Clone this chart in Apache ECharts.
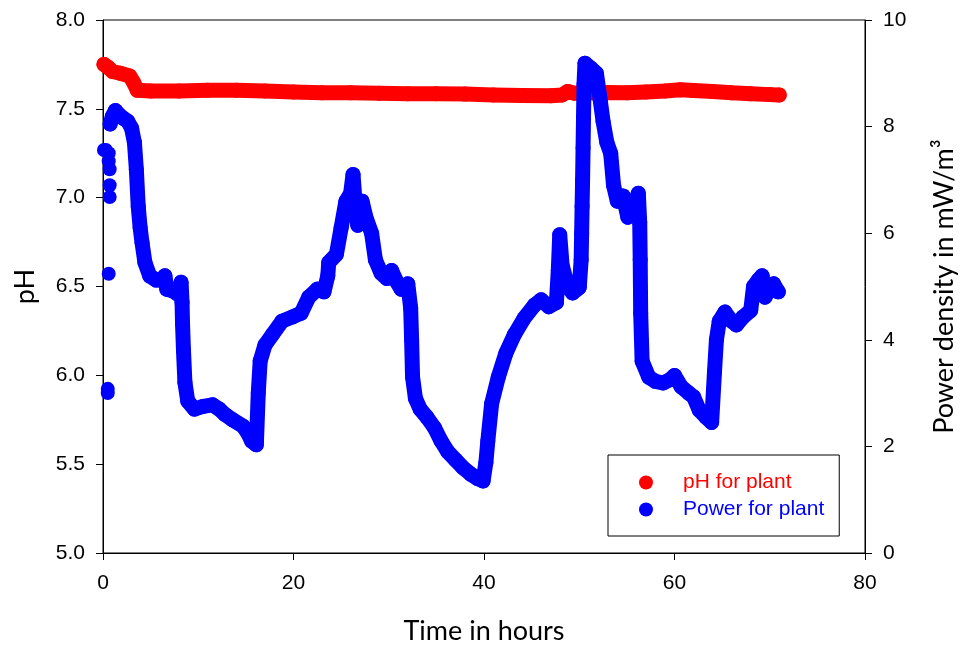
<!DOCTYPE html>
<html><head><meta charset="utf-8">
<script src="https://cdn.jsdelivr.net/npm/echarts@6/dist/echarts.min.js"></script>
<style>html,body{margin:0;padding:0;background:#fff}#c{width:960px;height:646px}</style>
</head><body><div id="c"></div>
<script>
// pH for plant (left axis)
const phTime  = [0.1, 0.5, 1.0, 1.8, 2.8, 3.2, 3.6, 5, 8, 11, 14, 17, 20, 23, 26, 29, 32, 35, 38, 41, 44, 47, 48.2, 48.8, 49.5, 51, 53, 55, 57, 59, 60.6, 62, 64, 66, 68, 70, 71];
const phValue = [7.75, 7.735, 7.71, 7.70, 7.685, 7.65, 7.605, 7.60, 7.60, 7.605, 7.605, 7.60, 7.595, 7.59, 7.59, 7.588, 7.585, 7.585, 7.583, 7.578, 7.575, 7.574, 7.578, 7.598, 7.588, 7.59, 7.592, 7.59, 7.595, 7.60, 7.607, 7.603, 7.598, 7.59, 7.585, 7.58, 7.578];

// Power for plant (right axis), main trace
const powerTime = [0.75, 1.0, 1.3, 1.7, 2.1, 2.6, 3.0, 3.3, 3.5, 3.7, 3.9, 4.1, 4.4, 4.9, 5.6, 6.2, 6.5, 6.7, 7.3, 7.9, 8.2, 8.3, 8.35, 8.45, 8.6, 8.9, 9.6, 10.5, 11.5, 12.2, 12.8, 13.6, 14.7, 15.2, 15.6, 16.1, 16.3, 16.5, 17.0, 17.8, 18.8, 19.9, 20.8, 21.6, 22.5, 23.2, 23.6, 23.7, 24.5, 25.0, 25.5, 26.0, 26.25, 26.5, 26.75, 27.2, 27.6, 28.2, 28.6, 29.2, 29.8, 30.3, 30.8, 31.3, 32.0, 32.3, 32.4, 32.5, 32.8, 33.3, 34.0, 34.8, 35.5, 36.2, 37.0, 37.8, 38.6, 39.3, 39.9, 40.2, 40.4, 40.8, 41.5, 42.3, 43.2, 44.2, 45.3, 46.0, 46.8, 47.6, 47.8, 47.95, 48.2, 48.8, 49.3, 50.0, 50.2, 50.25, 50.3, 50.35, 50.4, 50.45, 50.5, 50.6, 51.2, 51.8, 52.2, 52.5, 52.9, 53.3, 53.6, 54.0, 54.6, 55.1, 55.7, 56.2, 56.35, 56.4, 56.45, 56.6, 57.3, 58.0, 58.8, 59.5, 60.0, 60.7, 61.5, 62.0, 62.6, 63.3, 63.9, 64.2, 64.4, 64.7, 65.3, 66.0, 66.5, 67.2, 68.0, 68.3, 68.8, 69.2, 69.5, 70.0, 70.4, 70.9];
const powerValue = [8.05, 8.2, 8.3, 8.22, 8.16, 8.1, 7.97, 7.7, 7.2, 6.5, 6.1, 5.82, 5.45, 5.2, 5.12, 5.14, 5.2, 4.95, 4.92, 4.85, 5.08, 4.7, 4.3, 3.8, 3.2, 2.85, 2.7, 2.75, 2.78, 2.7, 2.6, 2.5, 2.38, 2.25, 2.1, 2.03, 3.0, 3.6, 3.9, 4.1, 4.35, 4.43, 4.5, 4.8, 4.95, 4.9, 5.2, 5.45, 5.6, 6.1, 6.6, 6.75, 7.1, 6.5, 6.15, 6.6, 6.3, 6.0, 5.5, 5.25, 5.15, 5.3, 5.1, 4.95, 5.05, 4.6, 4.0, 3.3, 2.9, 2.7, 2.55, 2.35, 2.1, 1.9, 1.75, 1.6, 1.48, 1.4, 1.35, 1.7, 2.1, 2.8, 3.3, 3.75, 4.1, 4.4, 4.65, 4.75, 4.62, 4.7, 5.3, 5.97, 5.4, 5.0, 4.88, 4.98, 5.5, 6.0, 6.5, 7.0, 7.6, 8.2, 8.8, 9.19, 9.1, 9.0, 8.5, 8.1, 7.7, 7.5, 6.9, 6.6, 6.7, 6.3, 6.5, 6.75, 6.2, 5.5, 4.5, 3.6, 3.3, 3.22, 3.19, 3.25, 3.33, 3.12, 3.0, 2.93, 2.68, 2.55, 2.45, 3.4, 4.0, 4.35, 4.52, 4.35, 4.28, 4.43, 4.55, 5.0, 5.12, 5.2, 4.8, 4.95, 5.05, 4.9];

// Power for plant, scattered start-up readings
const powerStartTime  = [0.1, 0.3, 0.6, 0.6, 0.7, 0.7, 0.7, 0.6, 0.5, 0.5];
const powerStartValue = [7.56, 7.56, 7.5, 7.35, 7.2, 6.9, 6.68, 5.24, 3.08, 3.0];

const pair = (xs, ys) => xs.map((x, i) => [x, ys[i]]);

const RED = '#ff0000', BLUE = '#0000ff';
const tickFont = {fontFamily: '"Liberation Sans", Arial, sans-serif', fontSize: 21, color: '#000'};
const nameFont = {fontFamily: 'Lato, "Open Sans", sans-serif', fontSize: 27, color: '#000'};
const MS = 15;

const chart = echarts.init(document.getElementById('c'), null, {renderer: 'canvas'});
chart.setOption({
  animation: false,
  backgroundColor: '#fff',
  grid: {left: 103, right: 95, top: 20, bottom: 93, show: true, borderColor: '#000', borderWidth: 1, backgroundColor: 'transparent', containLabel: false, outerBoundsMode: 'none'},
  legend: {
    orient: 'vertical', left: 608, top: 455,
    padding: [17, 15, 16, 31], itemGap: 6, itemWidth: 14, itemHeight: 14,
    backgroundColor: '#fff', borderColor: '#000', borderWidth: 1, borderRadius: 0,
    textStyle: {fontFamily: '"Liberation Sans", Arial, sans-serif', fontSize: 21, lineHeight: 21, padding: [0, 0, 0, 25]},
    selectedMode: false,
    data: [
      {name: 'pH for plant', icon: 'circle', textStyle: {color: RED}},
      {name: 'Power for plant', icon: 'circle', textStyle: {color: BLUE}}
    ]
  },
  xAxis: {
    type: 'value', min: 0, max: 80, interval: 20,
    name: 'Time in hours', nameLocation: 'middle', nameGap: 65, nameTextStyle: nameFont,
    axisLine: {show: true, lineStyle: {color: '#000', width: 1}},
    axisTick: {show: true, inside: false, length: 7, lineStyle: {color: '#000'}},
    axisLabel: Object.assign({margin: 20}, tickFont),
    splitLine: {show: false}
  },
  yAxis: [
    {
      type: 'value', min: 5, max: 8, interval: 0.5, position: 'left',
      name: 'pH', nameLocation: 'middle', nameGap: 64, nameTextStyle: nameFont,
      axisLine: {show: true, lineStyle: {color: '#000', width: 1}},
      axisTick: {show: true, inside: false, length: 7, lineStyle: {color: '#000'}},
      axisLabel: Object.assign({margin: 18, formatter: v => v.toFixed(1)}, tickFont),
      splitLine: {show: false}
    },
    {
      type: 'value', min: 0, max: 10, interval: 2, position: 'right',
      name: 'Power density in mW/m³', nameLocation: 'middle', nameGap: 66, nameTextStyle: nameFont,
      axisLine: {show: true, lineStyle: {color: '#000', width: 1}},
      axisTick: {show: true, inside: false, length: 7, lineStyle: {color: '#000'}},
      axisLabel: Object.assign({margin: 18}, tickFont),
      splitLine: {show: false}
    }
  ],
  series: [
    {
      name: 'pH for plant', type: 'line', yAxisIndex: 0,
      data: pair(phTime, phValue),
      symbol: 'circle', symbolSize: MS, showSymbol: true, showAllSymbol: true,
      itemStyle: {color: RED, opacity: 1},
      lineStyle: {color: RED, width: MS, cap: 'round', join: 'round'},
      emphasis: {disabled: true}, z: 2
    },
    {
      name: 'Power for plant', type: 'line', yAxisIndex: 1,
      data: pair(powerTime, powerValue),
      symbol: 'circle', symbolSize: MS, showSymbol: true, showAllSymbol: true,
      itemStyle: {color: BLUE, opacity: 1},
      lineStyle: {color: BLUE, width: MS, cap: 'round', join: 'round'},
      emphasis: {disabled: true}, z: 3
    },
    {
      name: 'Power for plant', type: 'scatter', yAxisIndex: 1,
      data: pair(powerStartTime, powerStartValue),
      symbol: 'circle', symbolSize: 14,
      itemStyle: {color: BLUE, opacity: 1},
      emphasis: {disabled: true}, z: 3
    }
  ]
});
</script></body></html>
